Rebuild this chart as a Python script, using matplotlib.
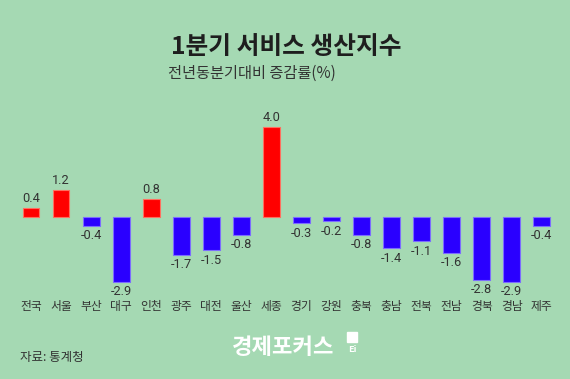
import matplotlib
matplotlib.use("Agg")
import matplotlib.pyplot as plt
from matplotlib.patches import Rectangle

plt.rcParams['font.family'] = ['Noto Sans CJK KR', 'DejaVu Sans']

regions = ['전국', '서울', '부산', '대구', '인천', '광주', '대전', '울산', '세종',
           '경기', '강원', '충북', '충남', '전북', '전남', '경북', '경남', '제주']
values = [0.4, 1.2, -0.4, -2.9, 0.8, -1.7, -1.5, -0.8, 4.0,
          -0.3, -0.2, -0.8, -1.4, -1.1, -1.6, -2.8, -2.9, -0.4]

bg = '#a5d9b3'
red = '#ff0000'
blue = '#2a00ff'

fig = plt.figure(figsize=(5.7, 3.79), dpi=100, facecolor=bg)
ax = fig.add_axes([0.028, 0.2203, 0.949, 0.4752])
ax.set_facecolor(bg)

cols = [red if v > 0 else blue for v in values]
edges = ['#ff6f5f' if v > 0 else '#7c6cff' for v in values]
x = range(len(values))
ax.bar(x, values, width=0.56, color=cols, edgecolor=edges, linewidth=0.8)

for i, v in enumerate(values):
    if v > 0:
        ax.annotate(f'{v:.1f}', (i, v), xytext=(0, 2), textcoords='offset points',
                    ha='center', va='bottom', fontsize=9.2, color='#333333',
                    family=['Roboto', 'DejaVu Sans'])
    else:
        ax.annotate(f'{v:.1f}', (i, v), xytext=(0, -2.5), textcoords='offset points',
                    ha='center', va='top', fontsize=9.2, color='#333333',
                    family=['Roboto', 'DejaVu Sans'])

ax.set_xlim(-0.5, len(values) - 0.5)
ax.set_ylim(-3.5, 4.5)
ax.set_xticks(list(x))
ax.set_xticklabels(regions, fontsize=8.5, color='#333333')
ax.tick_params(axis='x', length=0, pad=3)
ax.set_yticks([])
for s in ax.spines.values():
    s.set_visible(False)

fig.text(286 / 570, 1 - 46.7 / 379, '1분기 서비스 생산지수', ha='center', va='center',
         fontsize=17.8, fontweight='bold', color='#1e1e1e')
fig.text(168 / 570, 1 - 73 / 379, '전년동분기대비 증감률(%)', ha='left', va='center',
         fontsize=11, color='#333333')
fig.text(20 / 570, 1 - 357 / 379, '자료: 통계청', ha='left', va='center',
         fontsize=9, color='#333333')

# logo
fig.text(283 / 570, 1 - 347 / 379, '경제포커스', ha='center', va='center',
         fontsize=16, fontweight='bold', color='white')
fig.patches.append(Rectangle((347 / 570, 1 - 342 / 379), 10 / 570, 10 / 379,
                             transform=fig.transFigure, color='white'))
fig.text(352 / 570, 1 - 349 / 379, 'Ei', ha='center', va='center',
         fontsize=6.5, fontweight='bold', color='white')

fig.savefig('out.png', dpi=100, facecolor=bg)
